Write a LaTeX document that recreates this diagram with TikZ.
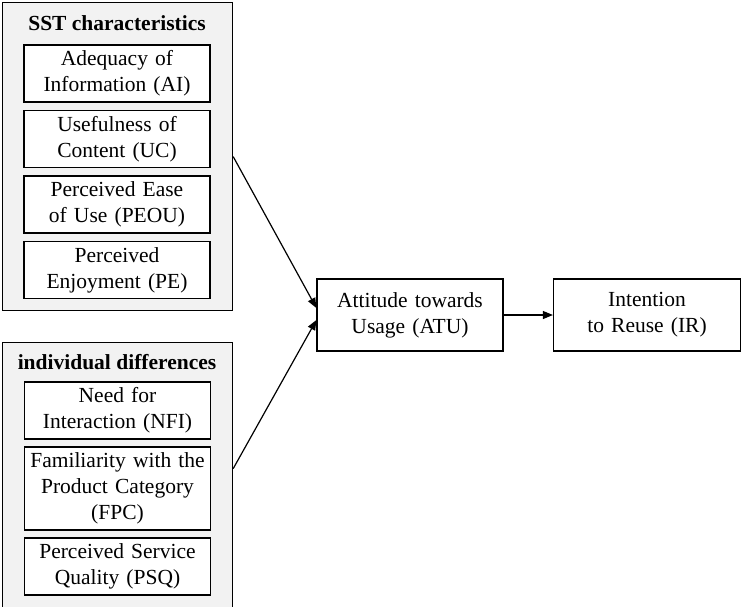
\documentclass[tikz,border=0pt]{standalone}
\usepackage{fontspec}
\setmainfont{Liberation Serif}
\usetikzlibrary{positioning,arrows.meta}

\begin{document}
\begin{tikzpicture}[x=1pt,y=-1pt,
        group/.style={draw, line width=1.2pt, fill=gray!10, minimum width=230pt, anchor=north west, inner sep=0pt},
        grouptitle/.style={font=\fontsize{21.5}{26}\selectfont\bfseries},
        item/.style={draw, line width=1.2pt, fill=white, text width=180pt, inner sep=3pt, align=center, minimum height=57pt, font=\fontsize{21.5}{26}\selectfont},
        flow/.style={line width=1.2pt, -{Triangle[length=10pt,width=8pt]}}]
        % Fix the page size
        \useasboundingbox (0,0) rectangle (741,607);
        
        % Group: SST characteristics
        \node[group, minimum height=308pt] (sstgroup) at (2,2) {};
        \node[grouptitle] (ssttitle) at (117,23) {SST characteristics};
        \node[item] (ai) at (117,73.5) {Adequacy of\\Information (AI)};
        \node[item] (uc) at (117,139) {Usefulness of\\Content (UC)};
        \node[item] (peou) at (117,204.5) {Perceived Ease\\of Use (PEOU)};
        \node[item] (pe) at (117,270) {Perceived\\Enjoyment (PE)};
        
        % Group: individual differences (runs off the page at the bottom)
        \node[group, minimum height=270pt] (idgroup) at (2,342) {};
        \node[grouptitle] (idtitle) at (117,362) {individual differences};
        \node[item] (nfi) at (117.5,410.5) {Need for\\Interaction (NFI)};
        \node[item, minimum height=83pt] (fpc) at (117.5,488.5) {Familiarity with the\\Product Category\\(FPC)};
        \node[item] (psq) at (117.5,566.5) {Perceived Service\\Quality (PSQ)};
        
        % Outcome constructs
        \node[item, text width=180pt, minimum height=72pt] (atu) at (410,315) {Attitude towards\\Usage (ATU)};
        \node[item, text width=181pt, minimum height=72pt] (ir) at (647,315) {Intention\\to Reuse (IR)};
        
        % Paths
        \draw[flow] (sstgroup.east) -- ([yshift=7pt]atu.west);
        \draw[flow] ([yshift=9pt]idgroup.east) -- ([yshift=-5pt]atu.west);
        \draw[flow] (atu) -- (ir);
        
    \end{tikzpicture}
\end{document}
